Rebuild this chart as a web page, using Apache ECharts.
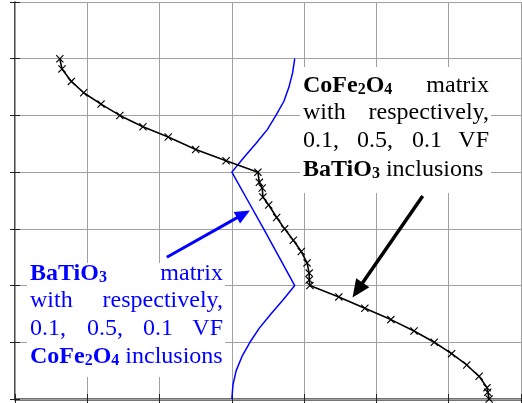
<!DOCTYPE html>
<html><head><meta charset="utf-8">
<script src="https://cdn.jsdelivr.net/npm/echarts/dist/echarts.min.js"></script>
<style>html,body{margin:0;padding:0;background:#fff}#c{width:522px;height:403px}</style>
</head><body><div id="c"></div>
<script>
// CoFe2O4 matrix curve (black, x markers)
const blackX = [0.62,0.65,0.78,0.95,1.19,1.45,1.77,2.12,2.50,2.92,3.36,3.38,3.42,3.43,3.51,3.62,3.73,3.85,3.96,4.04,4.07,4.07,4.08,4.48,4.84,5.20,5.52,5.80,6.04,6.25,6.42,6.53,6.54,6.56];
const blackY = [6.0,5.82,5.6,5.4,5.2,5.0,4.8,4.62,4.4,4.2,4.0,3.82,3.72,3.56,3.42,3.2,3.0,2.8,2.6,2.4,2.22,2.1,2.0,1.8,1.6,1.4,1.2,1.0,0.8,0.6,0.4,0.2,0.12,0.0];
// BaTiO3 matrix curve (blue)
const blueX = [3.87,3.84,3.79,3.72,3.61,3.49,3.33,3.16,3.0,3.22,3.44,3.87,3.71,3.54,3.38,3.25,3.14,3.06,3.015,3.0];
const blueY = [6.0,5.75,5.5,5.25,5.0,4.75,4.5,4.25,4.0,3.5,3.0,2.0,1.75,1.5,1.25,1.0,0.75,0.5,0.25,0.0];
// annotation arrows [fromX, fromY, toX, toY]
const blackArrow = [5.64,3.58,4.74,1.92];
const blueArrow = [2.10,2.50,3.16,3.26];
const axisMin = 0, axisMax = 7, axisStep = 1;

const chart = echarts.init(document.getElementById('c'), null, {renderer:'canvas'});
const serif = '"Liberation Serif","Times New Roman",serif';
const pair = (xs, ys) => xs.map((x,i)=>[x, ys[i]]);
const xMark = 'path://M0,1L1,0L5,4L9,0L10,1L6,5L10,9L9,10L5,6L1,10L0,9L4,5Z';
const FS = 24;

function txt(x, yBase, text, color, align, rich){
  return {type:'text', z:10, style:{x:x, y:yBase, text:text, fill:color, align:align||'left', verticalAlign:'bottom',
    fontSize:FS, fontFamily:serif, lineHeight:FS, rich: rich}};
}
function richFor(color){
  return {
    b:{fontWeight:'bold', fontSize:FS, fontFamily:serif, color:color, lineHeight:FS, verticalAlign:'bottom'},
    s:{fontWeight:'bold', fontSize:16, fontFamily:serif, color:color, lineHeight:14, verticalAlign:'bottom'},
    n:{fontSize:FS, fontFamily:serif, color:color, lineHeight:FS, verticalAlign:'bottom'}
  };
}
const rk = richFor('#000'), rb = richFor('#0000ff');
const dy = 6; // baseline -> bottom offset
const graphics = [
  {type:'rect', z:1, shape:{x:300, y:67, width:191, height:126}, style:{fill:'#fff'}},
  {type:'rect', z:1, shape:{x:27, y:263, width:198, height:114}, style:{fill:'#fff'}},
  txt(303, 92+dy, '{b|CoFe}{s|2}{b|O}{s|4}', '#000', 'left', rk),
  txt(489, 92+dy, '{n|matrix}', '#000', 'right', rk),
  txt(303, 119+dy, '{n|with}', '#000', 'left', rk),
  txt(489, 119+dy, '{n|respectively,}', '#000', 'right', rk),
  txt(303, 147+dy, '{n|0.1,}', '#000', 'left', rk),
  txt(357, 147+dy, '{n|0.5,}', '#000', 'left', rk),
  txt(412, 147+dy, '{n|0.1}', '#000', 'left', rk),
  txt(489, 147+dy, '{n|VF}', '#000', 'right', rk),
  txt(303, 176+dy, '{b|BaTiO}{s|3}{n| inclusions}', '#000', 'left', rk),
  txt(30, 280+dy, '{b|BaTiO}{s|3}', '#0000ff', 'left', rb),
  txt(223, 280+dy, '{n|matrix}', '#0000ff', 'right', rb),
  txt(30, 307+dy, '{n|with}', '#0000ff', 'left', rb),
  txt(223, 307+dy, '{n|respectively,}', '#0000ff', 'right', rb),
  txt(30, 335+dy, '{n|0.1,}', '#0000ff', 'left', rb),
  txt(87, 335+dy, '{n|0.5,}', '#0000ff', 'left', rb),
  txt(143, 335+dy, '{n|0.1}', '#0000ff', 'left', rb),
  txt(223, 335+dy, '{n|VF}', '#0000ff', 'right', rb),
  txt(30, 363+dy, '{b|CoFe}{s|2}{b|O}{s|4}{n| inclusions}', '#0000ff', 'left', rb)
];

const gridLine = {show:true, lineStyle:{color:'#a0a0a0', width:1}};
const baseAxis = {type:'value', min:axisMin, max:axisMax, interval:axisStep, axisLabel:{show:false},
  axisTick:{show:true, inside:true, length:5, lineStyle:{color:'#222', width:1}}};
chart.setOption({
  animation:false,
  grid:{left:15, right:1, top:2, bottom:4, containLabel:false},
  xAxis:[
    Object.assign({}, baseAxis, {position:'bottom', splitLine:gridLine, axisLine:{show:true, lineStyle:{color:'#444', width:2.5}}}),
    Object.assign({}, baseAxis, {position:'top', splitLine:{show:false}, axisLine:{show:true, lineStyle:{color:'#a0a0a0', width:1}}})
  ],
  yAxis:[
    Object.assign({}, baseAxis, {position:'left', splitLine:gridLine, axisLine:{show:true, lineStyle:{color:'#111', width:1.5}}}),
    Object.assign({}, baseAxis, {position:'right', splitLine:{show:false}, axisLine:{show:true, lineStyle:{color:'#a0a0a0', width:1}}})
  ],
  graphic:graphics,
  series:[
    {type:'line', z:5, data:pair(blueX, blueY), showSymbol:false, symbol:'none', lineStyle:{color:'#0000ff', width:1.5}},
    {type:'line', z:6, data:pair(blackX, blackY), symbol:xMark, symbolSize:8, showAllSymbol:true,
      itemStyle:{color:'#000'}, lineStyle:{color:'#000', width:1.6}},
    {type:'line', z:7, data:[], markLine:{silent:true, animation:false, label:{show:false},
      data:[
        [{coord:[blackArrow[0],blackArrow[1]], symbol:'none', lineStyle:{color:'#000', width:3.5, type:'solid'}},
         {coord:[blackArrow[2],blackArrow[3]], symbol:'triangle', symbolSize:[16,18]}],
        [{coord:[blueArrow[0],blueArrow[1]], symbol:'none', lineStyle:{color:'#0000ff', width:3, type:'solid'}},
         {coord:[blueArrow[2],blueArrow[3]], symbol:'triangle', symbolSize:[13,15]}]
      ]}}
  ]
});
</script></body></html>
